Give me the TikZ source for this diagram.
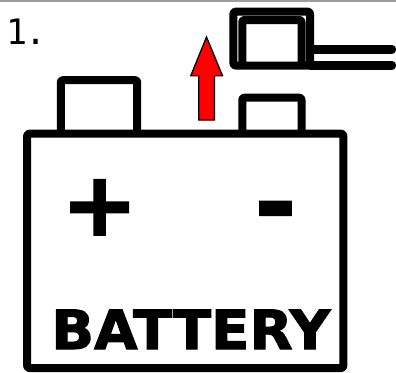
\documentclass[tikz,border=0pt]{standalone}
\usepackage{fontspec}
\newfontfamily\labelfont{DejaVu Sans Bold}[FakeBold=2,FakeStretch=1.04]
\newfontfamily\stepfont{DejaVu Sans Mono}[LetterSpace=-7]
\usepackage{tikz}

\tikzset{
    heavy/.style={line width=8pt, line join=round, rounded corners=2pt},
    wire/.style={line width=8.4pt, line cap=round},
    mark text/.style={inner sep=0pt, anchor=base}
}

\begin{document}
\begin{tikzpicture}[x=1pt,y=-1pt]
    \useasboundingbox (0,0) rectangle (396,372);

    % Grey rule along the top edge
    \fill[black!38] (0,0) rectangle (396,2);
    \node[inner sep=0pt, anchor=base west, font=\stepfont\fontsize{35}{35}\selectfont] (step) at (6.2,44) {1.};

    % Draw the terminals (behind the case)
    \draw[heavy] (60.8,134) -- (60.8,80.2) -- (137.2,80.2) -- (137.2,134);
    \draw[heavy] (242.3,134) -- (242.3,97.7) -- (301.5,97.7) -- (301.5,134);

    % Draw the case
    \draw[heavy] (27.2,133.7) rectangle (343.3,368);
    \node[mark text, font=\labelfont\fontsize{88}{88}\selectfont] (plus) at (99.7,235) {+};
    \node[mark text, font=\labelfont\fontsize{96}{96}\selectfont] (minus) at (275.5,236) {-};
    \node[mark text, font=\labelfont\fontsize{54}{54}\selectfont] (name) at (190.8,349) {BATTERY};

    % Red arrow showing the connector moving up
    \draw[line width=1.3pt, line join=miter, fill=red] (206.5,37) -- (222.5,75.7) -- (214.5,75.7)
        -- (214.5,120) -- (198.8,120) -- (198.8,75.7) -- (190.8,75.7) -- cycle;

    % Draw the connector with its two wires
    \draw[heavy] (233.4,11.7) rectangle (310,65.5);
    \draw[heavy] (242.3,65) -- (242.3,20) -- (301.5,20) -- (301.5,65);
    \draw[wire] (310,49.3) -- (392,49.3);
    \draw[wire] (310,65.3) -- (392,65.3);
\end{tikzpicture}
\end{document}
